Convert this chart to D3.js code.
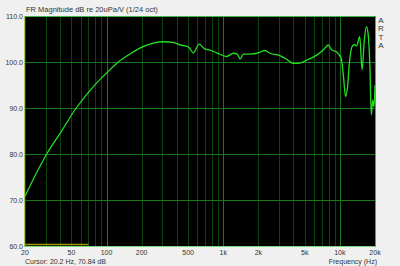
<!DOCTYPE html>
<html><head><meta charset="utf-8">
<script src="https://cdn.jsdelivr.net/npm/d3@7/dist/d3.min.js"></script>
<style>
html,body{margin:0;padding:0;background:#f0f0f0;}
svg{display:block;}
text{font-family:"Liberation Sans",Arial,sans-serif;fill:#333;}
</style></head>
<body>
<script>
const freqs = [20,25,30.7,40,55,82,100,126,160,193,250,306,380,426,502,554,622,698,771,880,1070,1220,1320,1396,1490,1696,2060,2270,2510,3060,3500,3980,4410,5200,6330,7200,7960,8500,9340,10270,10700,11200,11600,12100,12700,13300,13900,14800,15500,16200,16900,17500,18100,18600,19100,19600,20000];
const magDb = [70.8,75.8,80,84.5,90,95.4,97.6,100,101.8,103,104.1,104.4,104.2,103.7,103.3,102,103.9,102.8,102.6,102,101.2,101.9,101.7,100.65,101.7,101.7,102.1,102.5,101.9,101.4,100.6,99.7,99.7,100.4,101.5,102.6,103.7,102.6,102.2,100.8,97.2,92.5,94.3,100.1,103.3,103.8,103.5,105.5,98.3,104.8,107.7,105.9,98.7,88.5,91.7,90.3,95];
const yTicks = [60,70,80,90,100,110];
const xTickVals = [20,50,100,200,500,1000,2000,5000,10000,20000];
const xTickLabels = ["20","50","100","200","500","1k","2k","5k","10k","20k"];
const titleText = "FR Magnitude dB re 20uPa/V (1/24 oct)";
const cursorText = "Cursor: 20.2 Hz, 70.84 dB";
const xAxisTitle = "Frequency (Hz)";
const brand = ["A","R","T","A"];

const W=400,H=266, L=25, R=375, T=16, B=246;
const svg = d3.select("body").append("svg").attr("width",W).attr("height",H);
const x = d3.scaleLog().domain([20,20000]).range([L,R]);
const y = d3.scaleLinear().domain([60,110]).range([B,T]);

svg.append("rect").attr("x",L).attr("y",T).attr("width",R-L).attr("height",B-T).attr("fill","#000");

const gridF = [];
[10,100,1000,10000].forEach(d=>{for(let k=1;k<10;k++){const f=d*k; if(f>=20&&f<=20000) gridF.push(f);} });
gridF.push(20000);
const g = svg.append("g");
g.selectAll("line.v").data(gridF).join("line")
  .attr("x1",d=>Math.round(x(d))+0.5).attr("x2",d=>Math.round(x(d))+0.5)
  .attr("y1",T).attr("y2",B)
  .attr("stroke",d=>[100,1000,10000].includes(d)?"#1a7a1a":"#0c440c").attr("stroke-width",1);
g.selectAll("line.h").data(yTicks.filter(v=>v>60&&v<110)).join("line")
  .attr("x1",L).attr("x2",R)
  .attr("y1",d=>Math.round(y(d))+0.5).attr("y2",d=>Math.round(y(d))+0.5)
  .attr("stroke","#167a16").attr("stroke-width",1);

svg.append("line").attr("x1",x(20)).attr("x2",x(70)).attr("y1",B-1.5).attr("y2",B-1.5)
  .attr("stroke","#9a9a00").attr("stroke-width",1.5);

svg.append("line").attr("x1",L).attr("x2",R+1).attr("y1",T+0.5).attr("y2",T+0.5).attr("stroke","#3cb83c");
svg.append("line").attr("x1",L).attr("x2",R+1).attr("y1",B+0.5).attr("y2",B+0.5).attr("stroke","#7ad87a");
svg.append("line").attr("x1",L-0.5).attr("x2",L-0.5).attr("y1",T).attr("y2",B+1).attr("stroke","#b0c850");
svg.append("line").attr("x1",R+0.5).attr("x2",R+0.5).attr("y1",T).attr("y2",B+1).attr("stroke","#3cb83c");

const data = freqs.map((f,i)=>[f,magDb[i]]);
svg.append("path").datum(data)
  .attr("d", d3.line().x(d=>x(d[0])).y(d=>y(d[1])).curve(d3.curveMonotoneX))
  .attr("fill","none").attr("stroke","#22e022").attr("stroke-width",1.3);

svg.selectAll("text.yl").data(yTicks).join("text")
  .attr("x",L-2).attr("y",d=>y(d)+2.5).attr("text-anchor","end")
  .attr("font-size",7).text(d=>d.toFixed(1));
svg.selectAll("text.xl").data(xTickVals).join("text")
  .attr("x",d=>x(d)).attr("y",B+9).attr("text-anchor","middle")
  .attr("font-size",7).text((d,i)=>xTickLabels[i]);

svg.append("text").attr("x",L+1).attr("y",T-4).attr("font-size",7.5).text(titleText);
svg.append("text").attr("x",L).attr("y",H-2).attr("font-size",7).text(cursorText);
svg.append("text").attr("x",R+2).attr("y",H-2).attr("text-anchor","end").attr("font-size",7).text(xAxisTitle);
svg.selectAll("text.br").data(brand).join("text")
  .attr("x",R+6).attr("y",(d,i)=>T+7+i*8.3).attr("text-anchor","middle")
  .attr("font-size",8).attr("fill","#555").text(d=>d);
</script>
</body></html>
